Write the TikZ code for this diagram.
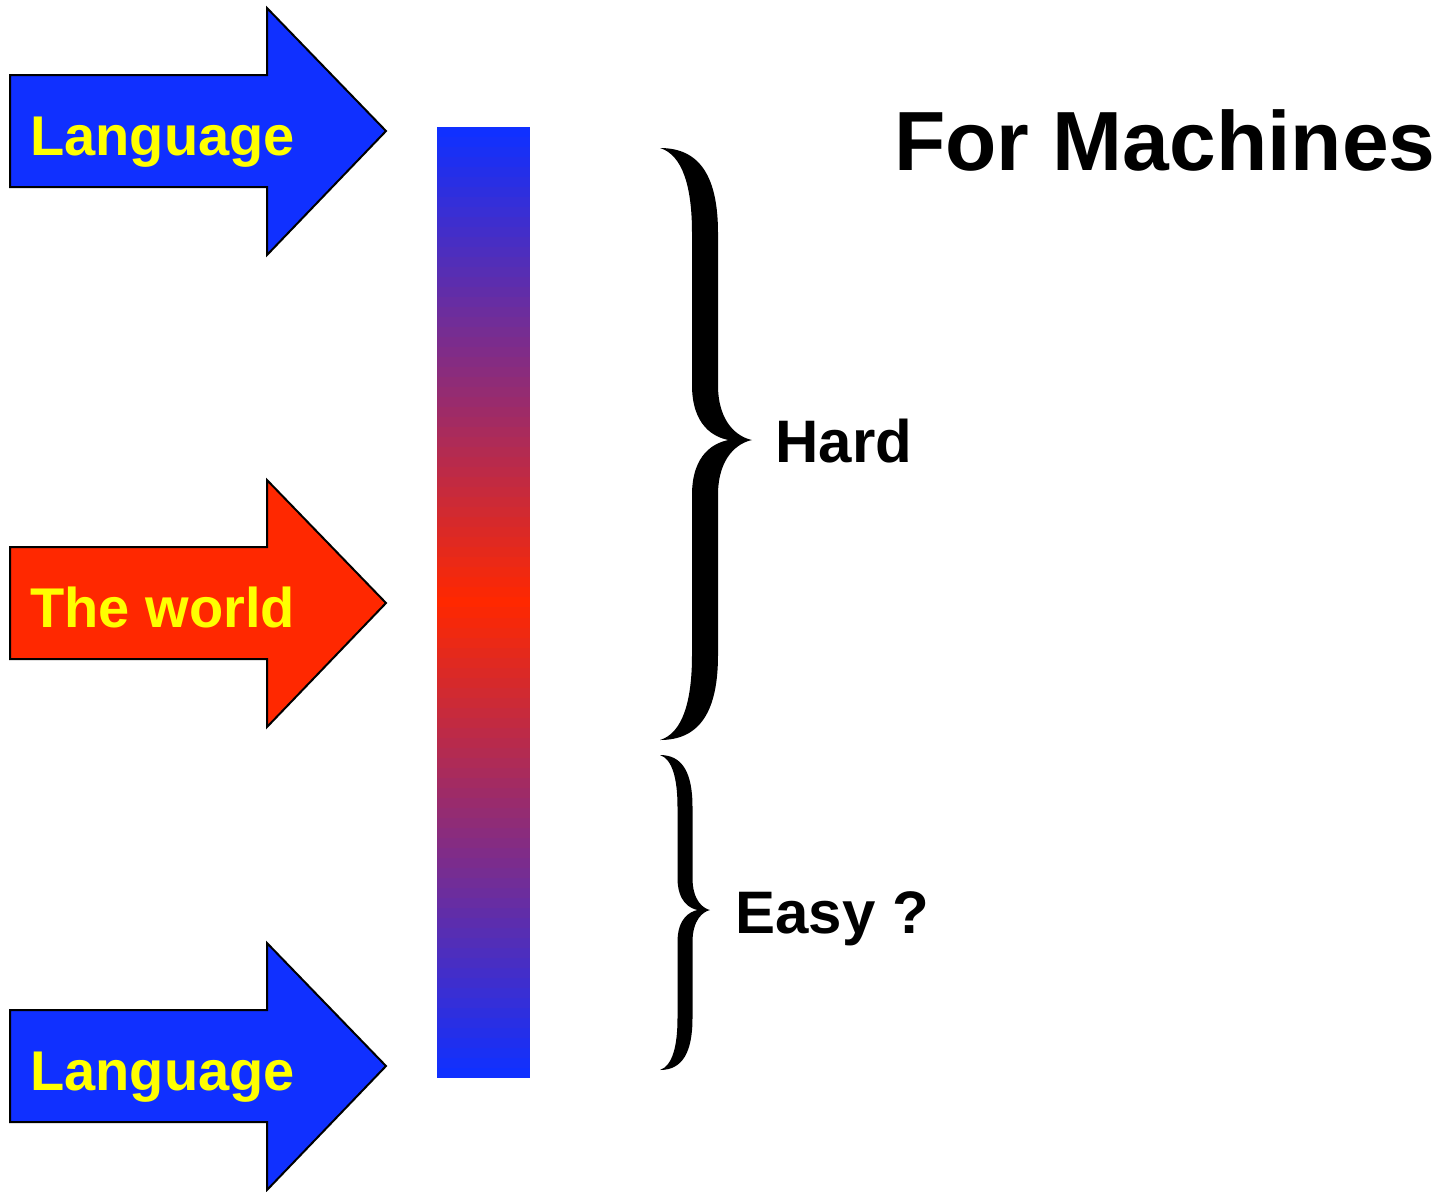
\documentclass[tikz,border=0pt]{standalone}
\usepackage{fontspec}
\setmainfont{Liberation Sans}
\usetikzlibrary{positioning}

\definecolor{arrowblue}{RGB}{16,48,255}
\definecolor{arrowred}{RGB}{255,40,0}
\definecolor{textyellow}{RGB}{255,255,0}

% filled right curly brace
% #1 end x, #2 top y, #3 middle y, #4 bottom y, #5 stem x,
% #6 half stem width, #7 tip x, #8 end bend, #9 tip bend
\newcommand{\fatbrace}[9]{%
  \fill (#1,#2)
    .. controls ({#1+0.7*(#5+#6-#1)},#2) and ({#5+#6},{#2+0.35*#8}) .. ({#5+#6},{#2+#8})
    -- ({#5+#6},{#3-#9})
    .. controls ({#5+#6},{#3-0.3*#9}) and ({#7-0.4*(#7-#5-#6)},{#3-0.05*#9}) .. (#7,#3)
    .. controls ({#7-0.4*(#7-#5-#6)},{#3+0.05*#9}) and ({#5+#6},{#3+0.3*#9}) .. ({#5+#6},{#3+#9})
    -- ({#5+#6},{#4-#8})
    .. controls ({#5+#6},{#4-0.35*#8}) and ({#1+0.7*(#5+#6-#1)},#4) .. (#1,#4)
    .. controls ({#5-#6-0.3*(#5-#6-#1)},{#4-0.08*#8}) and ({#5-#6},{#4-0.45*#8}) .. ({#5-#6},{#4-#8})
    -- ({#5-#6},{#3+#9})
    .. controls ({#5-#6},{#3+0.25*#9}) and ({(#5+#7)/2-0.3*(#7-#5)},{#3+0.05*#9}) .. ({(#5+#7)/2},#3)
    .. controls ({(#5+#7)/2-0.3*(#7-#5)},{#3-0.05*#9}) and ({#5-#6},{#3-0.25*#9}) .. ({#5-#6},{#3-#9})
    -- ({#5-#6},{#2+#8})
    .. controls ({#5-#6},{#2+0.45*#8}) and ({#5-#6-0.3*(#5-#6-#1)},{#2+0.08*#8}) .. (#1,#2)
    -- cycle;}

\begin{document}
\begin{tikzpicture}[x=0.5pt,y=-0.5pt]
\tikzstyle{bigarrow}=[draw=black, line width=1pt, line join=miter]
\tikzstyle{arrowtext}=[anchor=base west, inner sep=0pt, text=textyellow, font=\fontsize{28}{34}\selectfont\bfseries]
\tikzstyle{sidetext}=[anchor=base west, inner sep=0pt, font=\fontsize{30}{36}\selectfont\bfseries]
\tikzstyle{titletext}=[anchor=base, inner sep=0pt, font=\fontsize{42}{50}\selectfont\bfseries]
  \useasboundingbox (0,0) rectangle (1451,1191);

  % the three input arrows
  \foreach \y/\col/\txt/\nm in {131/arrowblue/Language/lang1,
                                603/arrowred/The world/world,
                                1066/arrowblue/Language/lang2} {
    \draw[bigarrow, fill=\col] (10,{\y-56}) -- (267,{\y-56}) -- (267,{\y-123})
      -- (386,\y) -- (267,{\y+124}) -- (267,{\y+56}) -- (10,{\y+56}) -- cycle;
    \node[arrowtext] (\nm) at (30,{\y+24}) {\txt};
  }

  % colour bar, blue at the ends and red in the middle (thin strips)
  \foreach \i in {0,...,94} {
    \pgfmathsetmacro\pct{abs(\i-47)/47*100}
    \fill[arrowblue!\pct!arrowred] (437,{127+\i*10.01}) rectangle (530,{min(127+(\i+1)*10.01+0.6,1078)});
  }

  % braces
  \fatbrace{660}{148}{440}{740}{705}{13}{752}{85}{55}
  \fatbrace{660}{755}{910}{1070}{685}{7.5}{710}{52}{32}

  \node[sidetext] (hard) at (775,462) {Hard};
  \node[sidetext] (easy) at (735,933) {Easy ?};
  \node[titletext] (title) at (1165,170) {For Machines};
\end{tikzpicture}
\end{document}
